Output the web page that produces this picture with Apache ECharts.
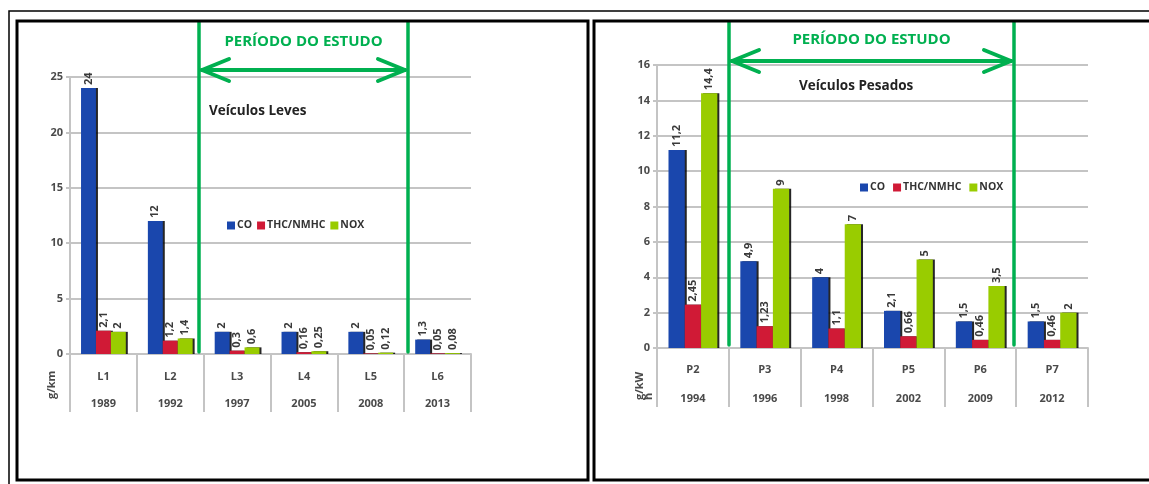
<!DOCTYPE html>
<html>
<head>
<meta charset="utf-8">
<script src="https://cdn.jsdelivr.net/npm/echarts@6/dist/echarts.min.js"></script>
<style>
  html, body { margin: 0; padding: 0; background: #fff; }
  #chart { width: 1149px; height: 484px; }
</style>
</head>
<body>
<div id="chart"></div>
<script>
// Emission limits by phase – light vehicles (g/km)
const lightPhases = ['L1', 'L2', 'L3', 'L4', 'L5', 'L6'];
const lightYears = ['1989', '1992', '1997', '2005', '2008', '2013'];
const lightCO = [24, 12, 2, 2, 2, 1.3];
const lightTHC = [2.1, 1.2, 0.3, 0.16, 0.05, 0.05];
const lightNOX = [2, 1.4, 0.6, 0.25, 0.12, 0.08];

// Emission limits by phase – heavy vehicles (g/kWh)
const heavyPhases = ['P2', 'P3', 'P4', 'P5', 'P6', 'P7'];
const heavyYears = ['1994', '1996', '1998', '2002', '2009', '2012'];
const heavyCO = [11.2, 4.9, 4, 2.1, 1.5, 1.5];
const heavyTHC = [2.45, 1.23, 1.1, 0.66, 0.46, 0.46];
const heavyNOX = [14.4, 9, 7, 5, 3.5, 2];

const seriesNames = ['CO', 'THC/NMHC', 'NOX'];
const seriesColors = ['#1a47ad', '#d01a36', '#99cc00'];

const FONT = 'Open Sans';
const GREEN = '#00b050';
const GRID_GRAY = '#c4c4c4';
const TEXT = '#4a4a4a';

const fmt = v => String(v).replace('.', ',');

function xAxisFor(idx, phases, years, margin, lh, tickLen) {
  return {
    type: 'category',
    gridIndex: idx,
    data: phases,
    axisLine: { lineStyle: { color: GRID_GRAY, width: 2 } },
    axisTick: { show: true, length: tickLen, interval: 0, lineStyle: { color: GRID_GRAY, width: 2 } },
    axisLabel: {
      interval: 0,
      margin: margin,
      color: TEXT,
      fontFamily: FONT,
      fontWeight: 'bold',
      fontSize: 11,
      lineHeight: lh,
      verticalAlign: 'top',
      formatter: (v, i) => v + '\n' + years[i]
    }
  };
}

function yAxisFor(idx, max, interval) {
  return {
    type: 'value',
    gridIndex: idx,
    min: 0,
    max: max,
    interval: interval,
    axisLine: { show: true, lineStyle: { color: GRID_GRAY, width: 2 } },
    axisTick: { show: true, length: 4, lineStyle: { color: GRID_GRAY, width: 2 } },
    splitLine: { lineStyle: { color: GRID_GRAY, width: 2 } },
    axisLabel: { color: TEXT, fontFamily: FONT, fontWeight: 'bold', fontSize: 11, margin: 7 }
  };
}

function barsFor(idx, values, gap) {
  return values.map((vals, k) => ({
    name: seriesNames[k],
    type: 'bar',
    xAxisIndex: idx,
    yAxisIndex: idx,
    data: vals,
    barGap: '0%',
    barCategoryGap: gap,
    itemStyle: {
      color: seriesColors[k],
      shadowColor: 'rgba(0,0,0,0.85)',
      shadowOffsetX: 2,
      shadowBlur: 0
    },
    label: {
      show: true,
      position: 'top',
      distance: 3,
      rotate: 90,
      align: 'left',
      verticalAlign: 'middle',
      color: '#3a3a3a',
      fontFamily: FONT,
      fontWeight: 'bold',
      fontSize: 11,
      formatter: p => fmt(p.value)
    },
    z: 3
  }));
}

// Decorative study-period bracket: two vertical bars, a double arrow and a caption
function studyPeriod(xl, xr, yTop, yBottom, yArrow, yText) {
  const w = 4;
  const head = { dx: 27, dy: 11 };
  const line = (x1, y1, x2, y2, lw) => ({
    type: 'line',
    shape: { x1, y1, x2, y2 },
    style: { stroke: GREEN, lineWidth: lw, lineCap: 'round' },
    z: 10
  });
  return [
    line(xl, yTop, xl, yBottom, 3.5),
    line(xr, yTop, xr, yBottom, 3.5),
    line(xl + 3, yArrow, xr - 3, yArrow, w),
    line(xl + 3, yArrow, xl + 3 + head.dx, yArrow - head.dy, w),
    line(xl + 3, yArrow, xl + 3 + head.dx, yArrow + head.dy, w),
    line(xr - 3, yArrow, xr - 3 - head.dx, yArrow - head.dy, w),
    line(xr - 3, yArrow, xr - 3 - head.dx, yArrow + head.dy, w),
    {
      type: 'text',
      x: (xl + xr) / 2,
      y: yText,
      style: {
        text: 'PERÍODO DO ESTUDO',
        fill: GREEN,
        font: 'bold 15px "' + FONT + '"',
        align: 'center',
        verticalAlign: 'middle'
      },
      z: 10
    }
  ];
}

function caption(text, x, y) {
  return {
    type: 'text',
    x, y,
    style: {
      text,
      fill: '#222',
      font: 'bold 13.5px "' + FONT + '"',
      align: 'left',
      verticalAlign: 'middle'
    },
    z: 10
  };
}

function unitLabel(text, x, y) {
  return {
    type: 'text',
    x, y,
    rotation: Math.PI / 2,
    style: {
      text,
      fill: TEXT,
      font: 'bold 11px "' + FONT + '"',
      align: 'left',
      verticalAlign: 'middle',
      lineHeight: 9
    },
    z: 10
  };
}

const chart = echarts.init(document.getElementById('chart'), null, { renderer: 'canvas' });

const legendText = { color: '#333', fontFamily: FONT, fontWeight: 'bold', fontSize: 10.5, padding: [0, 0, 0, -3] };

const option = {
  animation: false,
  backgroundColor: '#fff',
  grid: [
    { left: 70, top: 77, width: 401, height: 277 },
    { left: 657, top: 65, width: 431, height: 283 }
  ],
  legend: [
    {
      data: seriesNames,
      left: 227, top: 220, padding: 0,
      itemWidth: 8, itemHeight: 8, itemGap: 5,
      icon: 'rect',
      textStyle: legendText
    },
    {
      data: seriesNames,
      left: 860, top: 182, padding: 0,
      itemWidth: 8, itemHeight: 8, itemGap: 8,
      icon: 'rect',
      textStyle: legendText
    }
  ],
  xAxis: [
    xAxisFor(0, lightPhases, lightYears, 9, 27, 58),
    xAxisFor(1, heavyPhases, heavyYears, 7, 29, 59)
  ],
  yAxis: [
    yAxisFor(0, 25, 5),
    yAxisFor(1, 16, 2)
  ],
  series: [
    ...barsFor(0, [lightCO, lightTHC, lightNOX], '33%'),
    ...barsFor(1, [heavyCO, heavyTHC, heavyNOX], '32%')
  ],
  graphic: [
    // outer frame and the two panel frames
    { type: 'rect', shape: { x: 9, y: 11, width: 1170, height: 500 },
      style: { fill: null, stroke: '#000', lineWidth: 1.5 }, z: 20 },
    { type: 'rect', shape: { x: 17, y: 21, width: 571, height: 459 },
      style: { fill: null, stroke: '#000', lineWidth: 3 }, z: 20 },
    { type: 'rect', shape: { x: 594, y: 21, width: 600, height: 459 },
      style: { fill: null, stroke: '#000', lineWidth: 3 }, z: 20 },
    ...studyPeriod(199, 408, 22, 352, 70, 42),
    ...studyPeriod(729, 1014, 22, 345, 61, 40),
    caption('Veículos Leves', 209, 111),
    caption('Veículos Pesados', 799, 86),
    unitLabel('g/km', 52, 399),
    unitLabel('g/kW\nh', 644, 400)
  ]
};

chart.setOption(option);
</script>
</body>
</html>
